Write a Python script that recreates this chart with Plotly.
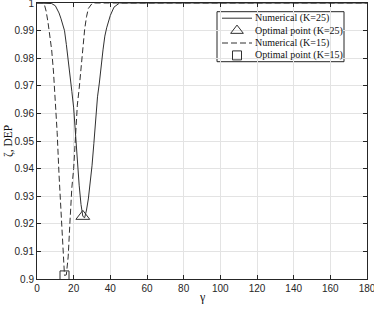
import plotly.graph_objects as go

# K=25 numerical curve
gamma_k25 = [0, 6, 8, 10, 12, 13, 14, 15, 16, 17, 18, 19, 20, 21, 22, 23, 24, 25, 26, 27, 28,
             29, 30, 31, 32, 33, 34, 35, 36, 37, 38, 40, 42, 45, 180]
dep_k25 = [1, 1, 0.9998, 0.999, 0.9964, 0.9945, 0.992, 0.99, 0.985, 0.98, 0.974, 0.968, 0.962,
           0.952, 0.943, 0.934, 0.927, 0.9227, 0.9222, 0.925, 0.929, 0.934, 0.941, 0.949, 0.959,
           0.966, 0.971, 0.978, 0.983, 0.988, 0.991, 0.9955, 0.9985, 1, 1]

# K=15 numerical curve
gamma_k15 = [0, 3, 4, 5, 6, 7, 8, 9, 10, 11, 12, 13, 14, 15, 16, 17, 18, 19, 20, 21, 22, 23,
             24, 25, 26, 27, 28, 30, 32, 180]
dep_k15 = [1, 1, 0.9995, 0.997, 0.993, 0.988, 0.983, 0.975, 0.965, 0.953, 0.938, 0.925, 0.912,
           0.9013, 0.9015, 0.908, 0.921, 0.933, 0.94, 0.951, 0.963, 0.969, 0.976, 0.984, 0.9905,
           0.995, 0.998, 0.9998, 1, 1]

# optimal points
opt_k25 = (25, 0.9227)
opt_k15 = (15, 0.9013)

legend_labels = ["Numerical (K=25)", "Optimal point (K=25)", "Numerical (K=15)", "Optimal point (K=15)"]

x_ticks = [0, 20, 40, 60, 80, 100, 120, 140, 160, 180]
y_ticks = [0.9, 0.91, 0.92, 0.93, 0.94, 0.95, 0.96, 0.97, 0.98, 0.99, 1]

W, H = 374, 310
ML, MR, MT, MB = 37, 7, 3, 31
PW, PH = W - ML - MR, H - MT - MB

def px(xp):
    return (xp - ML) / PW

def py(yp):
    return (H - MB - yp) / PH

line_col = "#303030"
axis_col = "#262626"
serif = "Liberation Serif, DejaVu Serif, serif"

fig = go.Figure()
fig.add_trace(go.Scatter(x=gamma_k25, y=dep_k25, mode="lines", showlegend=False,
                         line=dict(color=line_col, width=1)))
fig.add_trace(go.Scatter(x=[opt_k25[0]], y=[opt_k25[1]], mode="markers", showlegend=False,
                         marker=dict(symbol="triangle-up-open", size=12, color=line_col,
                                     line=dict(width=1, color=line_col))))
fig.add_trace(go.Scatter(x=gamma_k15, y=dep_k15, mode="lines", showlegend=False,
                         line=dict(color=line_col, width=1, dash="6px,3px")))
fig.add_trace(go.Scatter(x=[opt_k15[0]], y=[opt_k15[1]], mode="markers", showlegend=False,
                         marker=dict(symbol="square-open", size=9, color=line_col,
                                     line=dict(width=1, color=line_col))))

# manual legend (MATLAB style, compact)
box_l, box_r, box_t, box_b = 217, 344, 11.7, 61.7
rows = [18.2, 30.6, 43.0, 55.4]
samp_l, samp_r, text_x = 222, 252, 253
samp_c = (samp_l + samp_r) / 2

shapes = [dict(type="rect", xref="paper", yref="paper", x0=px(box_l), x1=px(box_r),
               y0=py(box_b), y1=py(box_t), line=dict(color=axis_col, width=1),
               fillcolor="white", layer="between")]
shapes.append(dict(type="line", xref="paper", yref="paper", x0=px(samp_l), x1=px(samp_r),
                   y0=py(rows[0]), y1=py(rows[0]), line=dict(color=line_col, width=1), layer="above"))
shapes.append(dict(type="line", xref="paper", yref="paper", x0=px(samp_l), x1=px(samp_r),
                   y0=py(rows[2]), y1=py(rows[2]), line=dict(color=line_col, width=1, dash="6px,3px"),
                   layer="above"))

annotations = []
for lab, r in zip(legend_labels, rows):
    annotations.append(dict(text=lab, xref="paper", yref="paper", x=px(text_x), y=py(r),
                            xanchor="left", yanchor="middle", showarrow=False,
                            font=dict(family=serif, size=10, color="#111")))

# legend marker glyphs on an overlaid paper-like axis
fig.add_trace(go.Scatter(x=[px(samp_c)], y=[py(rows[1])], xaxis="x2", yaxis="y2", mode="markers",
                         showlegend=False, cliponaxis=False,
                         marker=dict(symbol="triangle-up-open", size=11, color=line_col,
                                     line=dict(width=1, color=line_col))))
fig.add_trace(go.Scatter(x=[px(samp_c)], y=[py(rows[3])], xaxis="x2", yaxis="y2", mode="markers",
                         showlegend=False, cliponaxis=False,
                         marker=dict(symbol="square-open", size=9, color=line_col,
                                     line=dict(width=1, color=line_col))))

# axis titles
annotations.append(dict(text="γ", xref="paper", yref="paper", x=0.5, y=py(297), xanchor="center",
                        yanchor="middle", showarrow=False, font=dict(family=serif, size=12, color="#111")))
annotations.append(dict(text="ζ, DEP", xref="paper", yref="paper", x=px(8), y=0.5, xanchor="center",
                        yanchor="middle", textangle=-90, showarrow=False,
                        font=dict(family=serif, size=11.5, color="#111")))

tickfont = dict(family="Liberation Sans, Arial, sans-serif", size=10, color=axis_col)
fig.update_layout(
    width=W, height=H,
    margin=dict(l=ML, r=MR, t=MT, b=MB, autoexpand=False),
    paper_bgcolor="white", plot_bgcolor="white",
    showlegend=False,
    shapes=shapes, annotations=annotations,
    xaxis=dict(range=[0, 180], tickvals=x_ticks, ticks="inside", ticklen=4,
               tickcolor=axis_col, showline=True, linecolor=axis_col, linewidth=1, mirror="ticks",
               showgrid=True, gridcolor="#e3e3e3", gridwidth=1, zeroline=False,
               tickfont=tickfont, automargin=False, ticklabeloverflow="allow"),
    yaxis=dict(range=[0.9, 1], tickvals=y_ticks, ticks="inside", ticklen=4,
               tickcolor=axis_col, showline=True, linecolor=axis_col, linewidth=1, mirror="ticks",
               showgrid=True, gridcolor="#e3e3e3", gridwidth=1, zeroline=False,
               tickfont=tickfont, automargin=False, ticklabeloverflow="allow"),
    xaxis2=dict(range=[0, 1], overlaying="x", visible=False, fixedrange=True),
    yaxis2=dict(range=[0, 1], overlaying="y", visible=False, fixedrange=True),
)

fig.write_html("out.html", config={"displayModeBar": False},
               post_script="document.body.style.margin='0px';document.body.style.padding='0px';"
                           "document.body.style.overflow='hidden';")
